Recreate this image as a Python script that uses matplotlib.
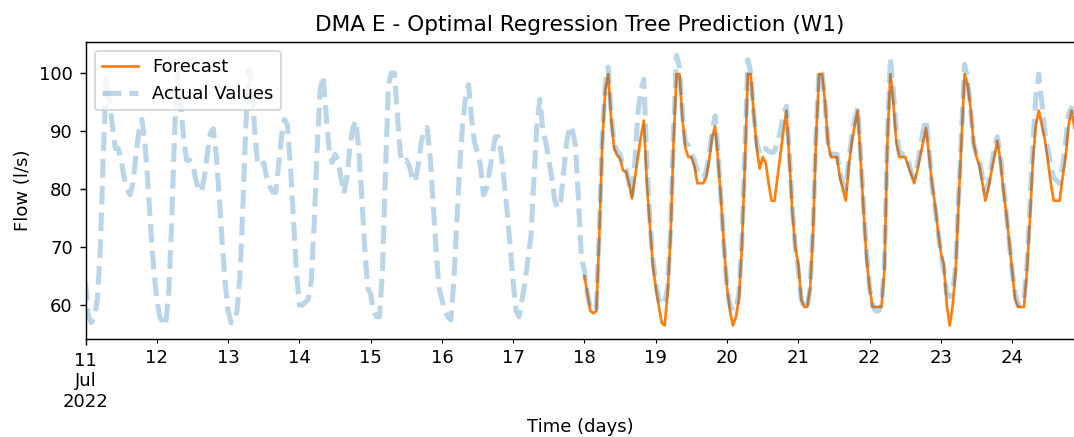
import numpy as np
import pandas as pd
import matplotlib
matplotlib.use('Agg')
import matplotlib.pyplot as plt

# hourly flow, one list per day (actual values)
actual_days = [
  [64, 58, 57, 58, 61, 70, 86, 99, 96, 91, 87, 87, 85, 82, 80, 79, 81, 86, 90, 92, 88, 81, 73, 66],          # 11 Jul
  [61, 58, 57, 56.5, 62, 74, 90, 99.8, 95, 89, 85, 85, 84.5, 82, 80, 79.5, 82, 86, 89.5, 90.4, 86, 79, 71, 64],
  [59, 57, 57, 59, 65, 77, 91, 100.7, 98, 90, 84, 84, 84.5, 82, 80.5, 79.5, 79.4, 84, 89, 92, 91, 84, 75, 66],
  [60, 60, 60.5, 61, 64, 74, 87, 97, 99.5, 93, 87, 84.6, 86, 85, 82, 79.2, 82, 87, 90.5, 91.8, 87, 79, 70, 63],
  [62, 59, 58, 58, 66, 83, 98, 100, 100, 93, 86, 84.6, 85, 84, 82, 81.2, 84, 88, 90, 90.6, 86, 78, 70, 63],
  [61, 59, 58, 57.4, 64, 74, 84, 91, 96, 98, 92, 88, 86.3, 84, 79, 80, 83, 86, 89, 89, 86, 81, 76, 70],
  [64, 59, 58, 61, 64, 68, 72, 82, 91, 95.5, 90, 88, 85, 82, 78, 76.7, 78, 83, 88, 90.9, 90, 87.5, 78, 68],
  [66, 62, 59.5, 59, 59.5, 73, 89, 98, 101, 93, 88, 86.5, 86, 84, 83.5, 81, 79, 85, 93, 97, 98.9, 85, 75, 68],  # 18 Jul
  [64, 61, 60, 60.5, 63, 73, 90, 103, 101, 93, 88, 87.5, 86, 85, 83, 82, 82, 83, 86, 90, 92.6, 86, 78, 70],
  [63, 60, 59, 59.5, 62, 71, 86, 102.3, 100, 93, 88, 86, 87, 87, 86.5, 86.3, 86.5, 88, 90, 93, 94.3, 86, 77, 70],
  [66, 61, 59.5, 59.5, 63, 74, 90, 100.6, 100, 95, 88, 86, 86, 86, 83, 81, 80, 85, 89, 92, 94, 86, 77, 69],
  [63, 60, 59, 59, 60, 67, 89, 102.6, 97, 90, 86.5, 86, 86, 85, 83, 82, 84, 87, 90, 92, 87, 81, 77, 73],
  [69, 66, 62, 61.5, 62, 67, 79, 90, 101.5, 99, 94, 88, 86, 85, 82, 79.5, 81, 84, 87, 89, 86, 81, 76, 71],
  [66, 62, 60, 60, 61, 67, 77, 88, 96, 99.8, 95, 90, 87, 84, 82, 81.5, 81, 84, 88, 93, 94, 93],               # 24 Jul
]

# forecast, from 18 Jul
forecast_days = [
  [65, 62, 59, 58.6, 59, 72, 88, 97, 99.8, 92, 87, 85.8, 85.2, 83.2, 83, 81, 78.4, 82, 85.5, 89, 91.8, 81, 74, 67],
  [63, 60, 57, 56.5, 62, 72, 88, 99.8, 99.8, 92, 87, 85.5, 85.5, 84, 81, 81, 81, 82, 85, 89, 90.8, 85, 78, 70],
  [63, 59, 56.5, 58, 61, 70, 84, 99.8, 99.8, 93, 87, 83.5, 85.5, 84.6, 81, 78, 78, 82, 86, 90, 93.5, 85, 76, 70],
  [67, 61, 59.7, 59.7, 63, 73, 89, 99.8, 99.8, 95, 88, 85.5, 85.5, 85.5, 82, 80, 78, 84, 88, 91, 93.5, 85, 76, 68],
  [63, 59.7, 59.7, 59.7, 59.7, 66, 88, 99.8, 95, 88, 85.5, 85.5, 85.5, 84, 82.5, 81, 83, 85.5, 88, 90.5, 86, 81, 77.5, 73],
  [69, 67, 60, 56.5, 60, 66, 78, 89, 99.8, 98, 94, 88, 85.5, 84, 81, 78, 80, 83, 85.5, 88.3, 85, 80, 76, 71],
  [66, 61, 59.7, 59.7, 59.7, 66, 75, 85, 91, 93.5, 91, 88.5, 85, 81, 78, 78, 78, 82, 85.5, 91, 93.5, 90.5],
]

actual_vals = sum(actual_days, [])
forecast_vals = sum(forecast_days, [])

actual = pd.Series(actual_vals, index=pd.date_range('2022-07-11', periods=len(actual_vals), freq='h'))
forecast = pd.Series(forecast_vals, index=pd.date_range('2022-07-18', periods=len(forecast_vals), freq='h'))

# drawn at 130 dpi so fonts and lines come out at the reference scale
fig = plt.figure(figsize=(1074/130, 437/130), dpi=130)
ax = fig.add_axes([85.5/1074, 98/437, 989/1074, 297/437])

forecast.plot(ax=ax, color='tab:orange', label='Forecast')
actual.plot(ax=ax, color='tab:blue', alpha=0.3, linestyle='--', linewidth=2.8, label='Actual Values')

ax.set_title('DMA E - Optimal Regression Tree Prediction (W1)')
ax.set_xlabel('Time (days)')
ax.set_ylabel('Flow (l/s)')
ax.legend(loc='upper left')

fig.savefig('out.png', dpi=130)
